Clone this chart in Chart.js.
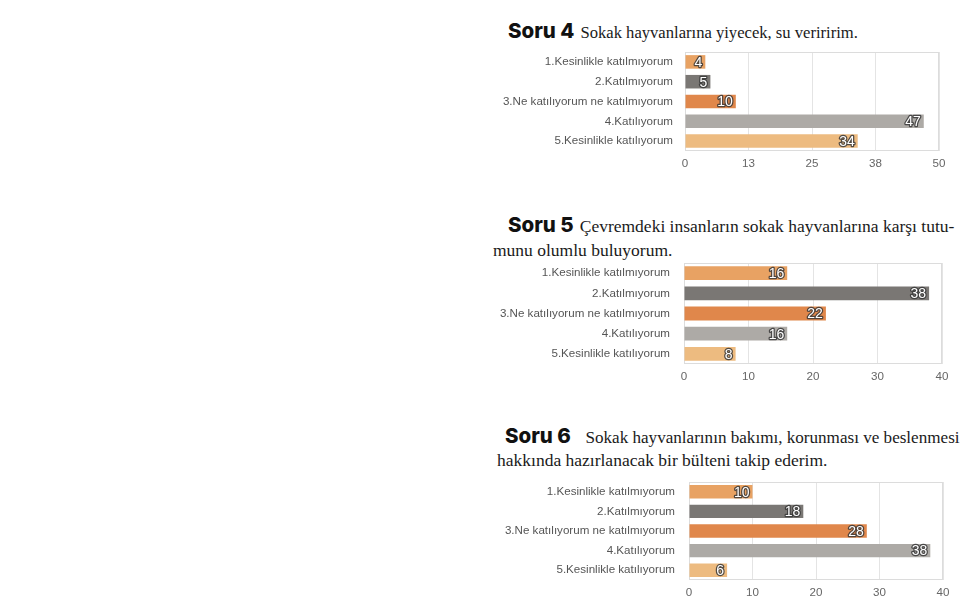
<!DOCTYPE html>
<html lang="tr">
<head>
<meta charset="utf-8">
<script src="https://cdn.jsdelivr.net/npm/chart.js@4.4.0/dist/chart.umd.min.js"></script>
<style>
    html, body { margin: 0; padding: 0; background: #fff; }
    body { width: 972px; height: 606px; position: relative; overflow: hidden; }
    .box { position: absolute; }
    .q { position: absolute; white-space: nowrap; color: #1a1a1a; font-family: "Liberation Serif", serif; font-size: 17.5px; line-height: 20px; }
    .q b { font-family: Inter, sans-serif; font-weight: 800; font-size: 20.5px; color: #111; margin-right: 6px; }
</style>
</head>
<body>

<div class="q" style="left:508px; top:21px; font-size:16.6px;"><b>Soru 4</b>Sokak hayvanlarına yiyecek, su veriririm.</div>

<div class="q" style="left:508px; top:215px;"><b>Soru 5</b>Çevremdeki insanların sokak hayvanlarına karşı tutu-</div>
<div class="q" style="left:493px; top:240px;">munu olumlu buluyorum.</div>

<div class="q" style="left:505px; top:426px; font-size:17.1px;"><b>Soru 6</b>&nbsp; Sokak hayvanlarının bakımı, korunması ve beslenmesi</div>
<div class="q" style="left:497px; top:450px;">hakkında hazırlanacak bir bülteni takip ederim.</div>

<div class="box" style="left:490px; top:45px; width:465px; height:128px;"><canvas id="chart4"></canvas></div>
<div class="box" style="left:490px; top:257px; width:465px; height:128px;"><canvas id="chart5"></canvas></div>
<div class="box" style="left:490px; top:476px; width:465px; height:128px;"><canvas id="chart6"></canvas></div>

<script>
// Answer options (same for every question)
const categories = [
    "1.Kesinlikle katılmıyorum",
    "2.Katılmıyorum",
    "3.Ne katılıyorum ne katılmıyorum",
    "4.Katılıyorum",
    "5.Kesinlikle katılıyorum"
];

// Counts per question
const soru4 = [4, 5, 10, 47, 34];
const soru5 = [16, 38, 22, 16, 8];
const soru6 = [10, 18, 28, 38, 6];

// Axis tick labels as printed
const ticks4 = ["0", "13", "25", "38", "50"];
const ticks5 = ["0", "10", "20", "30", "40"];
const ticks6 = ["0", "10", "20", "30", "40"];

const barColors = ["#E8A263", "#7A7774", "#E0874B", "#ADAAA6", "#EDBB80"];

Chart.defaults.font.family = "'Liberation Sans', Arial, sans-serif";
Chart.defaults.font.size = 11.6;
Chart.defaults.color = "#555";

// value labels at the end of each bar (white text, dark outline)
const barValues = {
    id: "barValues",
    afterDatasetsDraw(chart) {
        const ctx = chart.ctx;
        const meta = chart.getDatasetMeta(0);
        ctx.save();
        ctx.font = "14px 'Liberation Sans', Arial, sans-serif";
        ctx.textAlign = "right";
        ctx.textBaseline = "middle";
        ctx.lineJoin = "round";
        meta.data.forEach((bar, i) => {
            const txt = String(chart.data.datasets[0].data[i]);
            const x = bar.x - 3;
            const y = bar.y + 1;
            ctx.lineWidth = 2.5;
            ctx.strokeStyle = "rgba(55,55,55,0.85)";
            ctx.strokeText(txt, x, y);
            ctx.fillStyle = "#fff";
            ctx.fillText(txt, x, y);
        });
        ctx.restore();
    }
};

// light frame round the plot area
const plotFrame = {
    id: "plotFrame",
    beforeDatasetsDraw(chart) {
        const { ctx, chartArea: a } = chart;
        ctx.save();
        ctx.strokeStyle = "#dcdcdc";
        ctx.lineWidth = 1;
        ctx.strokeRect(a.left + 0.5, a.top + 0.5, a.width - 1, a.height - 1);
        ctx.restore();
    }
};

function makeChart(id, values, tickLabels, max, yWidth, xHeight, padTop, padRight, labelGap) {
    new Chart(document.getElementById(id), {
        type: "bar",
        data: {
            labels: categories,
            datasets: [{
                data: values,
                backgroundColor: barColors,
                borderWidth: 0,
                categoryPercentage: 0.9,
                barPercentage: 0.76
            }]
        },
        options: {
            indexAxis: "y",
            responsive: true,
            maintainAspectRatio: false,
            animation: false,
            layout: { padding: { top: padTop, right: padRight, left: 0, bottom: 0 } },
            plugins: { legend: { display: false }, tooltip: { enabled: false } },
            scales: {
                x: {
                    min: 0,
                    max: max,
                    ticks: {
                        stepSize: max / 4,
                        padding: 6,
                        color: "#666",
                        callback: (v, i) => tickLabels[i]
                    },
                    grid: { color: "#e4e4e4", drawTicks: false },
                    border: { display: false },
                    afterFit: s => { s.height = xHeight; s.paddingLeft = 0; s.paddingRight = 0; }
                },
                y: {
                    ticks: { padding: labelGap, color: "#555" },
                    grid: { display: false, drawTicks: false },
                    border: { display: false },
                    afterFit: s => { s.width = yWidth; s.paddingTop = 0; s.paddingBottom = 0; }
                }
            }
        },
        plugins: [plotFrame, barValues]
    });
}

makeChart("chart4", soru4, ticks4, 50, 195, 22, 7, 16, 12);
makeChart("chart5", soru5, ticks5, 40, 194, 21, 6, 13, 14);
makeChart("chart6", soru6, ticks6, 40, 199, 24, 6, 12, 14);
</script>
</body>
</html>
